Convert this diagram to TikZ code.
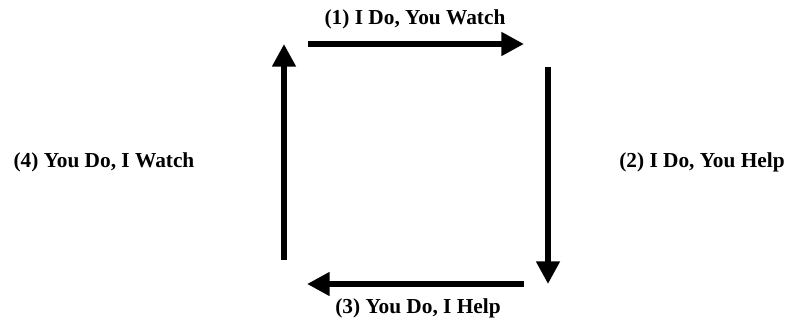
\documentclass[tikz,border=0pt]{standalone}
\usepackage{fontspec}
\setmainfont{Liberation Serif}
\usetikzlibrary{arrows.meta}
\tikzset{
    cyclearrow/.style={line width=5.2pt, -{Triangle[length=17pt, width=17pt]}},
    steplabel/.style={font=\fontsize{16pt}{19pt}\selectfont\bfseries, inner sep=0pt}
}
\begin{document}
\begin{tikzpicture}[x=0.75pt, y=-0.75pt]
    % 1. Khung
    \useasboundingbox (0,0) rectangle (789,320);

    % 2. Các điểm đầu mũi tên
    \coordinate (t1) at (308,44);  \coordinate (h1) at (524,44);
    \coordinate (t2) at (548,67);  \coordinate (h2) at (548,284);
    \coordinate (t3) at (524,284); \coordinate (h3) at (307,284);
    \coordinate (t4) at (284,260); \coordinate (h4) at (284,44);

    % 3. Các mũi tên
    \draw[cyclearrow] (t1) -- (h1);
    \draw[cyclearrow] (t2) -- (h2);
    \draw[cyclearrow] (t3) -- (h3);
    \draw[cyclearrow] (t4) -- (h4);

    % 4. Nhãn
    \node[steplabel] (s1) at (415,19) {(1) I Do, You Watch};
    \node[steplabel] (s2) at (702,162) {(2) I Do, You Help};
    \node[steplabel] (s3) at (418,308) {(3) You Do, I Help};
    \node[steplabel] (s4) at (104,162) {(4) You Do, I Watch};
\end{tikzpicture}
\end{document}
